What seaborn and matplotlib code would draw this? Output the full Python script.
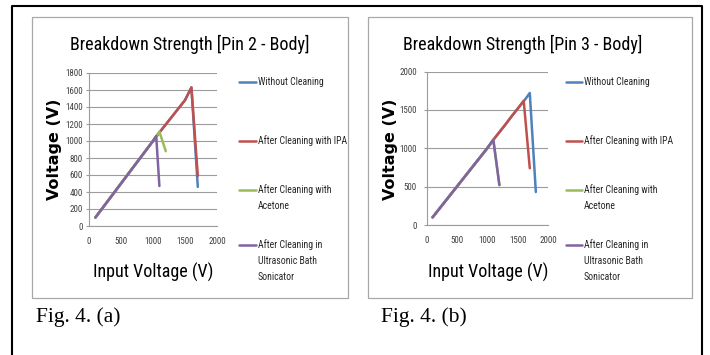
import numpy as np
import pandas as pd
import matplotlib
matplotlib.use("Agg")
import matplotlib.pyplot as plt
import seaborn as sns
from matplotlib import font_manager
from matplotlib.lines import Line2D
from matplotlib.patches import Rectangle

# ---------------- data ----------------
SERIES = ["Without Cleaning", "After Cleaning with IPA",
          "After Cleaning with Acetone", "After Cleaning in Ultrasonic Bath Sonicator"]
LEGEND_LINES = [["Without Cleaning"], ["After Cleaning with IPA"],
                ["After Cleaning with", "Acetone"],
                ["After Cleaning in", "Ultrasonic Bath", "Sonicator"]]
COLORS = ["#4F81BD", "#C0504D", "#9BBB59", "#8064A2"]

TITLE_A = "Breakdown Strength [Pin 2 - Body]"
TITLE_B = "Breakdown Strength [Pin 3 - Body]"
XLABEL = "Input Voltage (V)"
YLABEL = "Voltage (V)"
CAPTION_A = "Fig. 4. (a)"
CAPTION_B = "Fig. 4. (b)"

X_TICKS = [0, 500, 1000, 1500, 2000]
Y_TICKS_A = [0, 200, 400, 600, 800, 1000, 1200, 1400, 1600, 1800]
Y_TICKS_B = [0, 500, 1000, 1500, 2000]

# Pin 2 - Body
a_without_x = [100, 200, 300, 400, 500, 600, 700, 800, 900, 1000, 1100, 1200, 1300, 1400, 1500, 1600, 1700]
a_without_y = [100, 200, 300, 400, 500, 600, 700, 800, 900, 1000, 1100, 1195, 1290, 1385, 1480, 1630, 460]
a_ipa_x = [100, 200, 300, 400, 500, 600, 700, 800, 900, 1000, 1100, 1200, 1300, 1400, 1500, 1600, 1700]
a_ipa_y = [100, 200, 300, 400, 500, 600, 700, 800, 900, 1000, 1100, 1195, 1290, 1385, 1480, 1630, 590]
a_acetone_x = [100, 200, 300, 400, 500, 600, 700, 800, 900, 1000, 1100, 1200]
a_acetone_y = [100, 200, 300, 400, 500, 600, 700, 800, 900, 1000, 1110, 880]
a_ultra_x = [100, 200, 300, 400, 500, 600, 700, 800, 900, 1000, 1050, 1100]
a_ultra_y = [100, 200, 300, 400, 500, 600, 700, 800, 900, 1000, 1060, 470]

# Pin 3 - Body
b_without_x = [100, 200, 300, 400, 500, 600, 700, 800, 900, 1000, 1100, 1200, 1300, 1400, 1500, 1600, 1700, 1800]
b_without_y = [100, 200, 300, 400, 500, 600, 700, 800, 900, 1000, 1110, 1210, 1310, 1415, 1515, 1610, 1720, 430]
b_ipa_x = [100, 200, 300, 400, 500, 600, 700, 800, 900, 1000, 1100, 1200, 1300, 1400, 1500, 1600, 1700]
b_ipa_y = [100, 200, 300, 400, 500, 600, 700, 800, 900, 1000, 1110, 1210, 1310, 1415, 1515, 1620, 740]
b_acetone_x = [100, 200, 300, 400, 500, 600, 700, 800, 900, 1000, 1100, 1200]
b_acetone_y = [100, 200, 300, 400, 500, 600, 700, 800, 900, 1000, 1110, 520]
b_ultra_x = [100, 200, 300, 400, 500, 600, 700, 800, 900, 1000, 1100, 1200]
b_ultra_y = [100, 200, 300, 400, 500, 600, 700, 800, 900, 1000, 1110, 520]


def make_df(pairs):
    frames = []
    for name, (xs, ys) in zip(SERIES, pairs):
        frames.append(pd.DataFrame({"input": xs, "voltage": ys, "series": name}))
    return pd.concat(frames, ignore_index=True)


df_a = make_df([(a_without_x, a_without_y), (a_ipa_x, a_ipa_y),
                (a_acetone_x, a_acetone_y), (a_ultra_x, a_ultra_y)])
df_b = make_df([(b_without_x, b_without_y), (b_ipa_x, b_ipa_y),
                (b_acetone_x, b_acetone_y), (b_ultra_x, b_ultra_y)])

# ---------------- fonts ----------------
def pick(names, fallback="DejaVu Sans"):
    for n in names:
        try:
            font_manager.findfont(font_manager.FontProperties(family=n), fallback_to_default=False)
            return n
        except Exception:
            pass
    return fallback


NARROW = pick(["Liberation Sans Narrow", "Roboto Condensed", "Open Sans Condensed", "Liberation Sans"])
SERIF = pick(["Liberation Serif", "DejaVu Serif"])

sns.set_theme(style="white")
plt.rcParams["font.family"] = [NARROW, "DejaVu Sans"]

W, H = 710, 355
fig = plt.figure(figsize=(W / 100, H / 100), dpi=100)
fig.patch.set_facecolor("white")


def fx(px):
    return px / W


def fy(py):
    return 1 - py / H


# outer border (black)
fig.add_artist(Line2D([fx(11.5), fx(11.5), fx(701.5), fx(701.5)],
                      [fy(400), fy(5.5), fy(5.5), fy(400)],
                      transform=fig.transFigure, color="black", lw=1.5))

# chart boxes
for (x0, x1) in [(31.5, 348), (367.5, 692)]:
    fig.add_artist(Rectangle((fx(x0), fy(298)), fx(x1) - fx(x0), (298 - 17) / H,
                             transform=fig.transFigure, fill=False,
                             edgecolor="#a8a8a8", lw=0.9))

GRID = "#9c9c9c"
TICKC = "#404040"


def style_axes(ax, yticks, ylim, ypad):
    ax.set_xlim(0, 2000)
    ax.set_ylim(0, ylim)
    ax.set_xticks(X_TICKS)
    ax.set_yticks(yticks)
    ax.set_xlabel("")
    ax.set_ylabel("")
    ax.set_facecolor("white")
    ax.yaxis.grid(True, color=GRID, lw=0.8)
    ax.xaxis.grid(False)
    ax.set_axisbelow(True)
    for s in ["top", "right"]:
        ax.spines[s].set_visible(False)
    for s in ["left", "bottom"]:
        ax.spines[s].set_color(GRID)
        ax.spines[s].set_linewidth(0.8)
    ax.tick_params(axis="y", length=2, width=0.8, color=GRID, pad=ypad,
                   labelsize=6.5, labelcolor=TICKC, left=True)
    ax.tick_params(axis="x", length=0, pad=8, labelsize=6.5, labelcolor=TICKC)


axA = fig.add_axes([fx(89), fy(226), (217 - 89) / W, (226 - 73) / H])
axB = fig.add_axes([fx(426.5), fy(225), (548 - 426.5) / W, (225 - 71.5) / H])

for ax, df in [(axA, df_a), (axB, df_b)]:
    sns.lineplot(data=df, x="input", y="voltage", hue="series", hue_order=SERIES,
                 palette=COLORS, sort=False, estimator=None, legend=False,
                 linewidth=1.8, ax=ax)

style_axes(axA, Y_TICKS_A, 1800, 2.7)
style_axes(axB, Y_TICKS_B, 2000, 5.0)

# titles, axis labels
for cx, title in [(190, TITLE_A), (523, TITLE_B)]:
    fig.text(fx(cx), fy(50.5), title, ha="center", va="baseline", fontsize=13, color="black")
for cx in [54, 390.5]:
    fig.text(fx(cx), fy(149), YLABEL, rotation=90, ha="center", va="center",
             fontsize=11.5, fontweight="bold", family=["DejaVu Sans"], color="black")
for cx in [153, 488]:
    fig.text(fx(cx), fy(277.5), XLABEL, ha="center", va="baseline", fontsize=13, color="black")

# legends
ROWS = [81.7, 141, 190, 245]
for kx0, kx1, tx in [(239, 256, 258), (566, 582, 583.5)]:
    for (ry, lines, col) in zip(ROWS, LEGEND_LINES, COLORS):
        fig.add_artist(Line2D([fx(kx0), fx(kx1)], [fy(ry), fy(ry)],
                              transform=fig.transFigure, color=col, lw=1.8))
        for i, t in enumerate(lines):
            fig.text(fx(tx), fy(ry + i * 16), t, ha="left", va="center",
                     fontsize=7, color="#262626")

# captions
for cx, cap in [(36.5, CAPTION_A), (381, CAPTION_B)]:
    fig.text(fx(cx), fy(322), cap, ha="left", va="baseline", fontsize=15.5,
             family=[SERIF], color="black")

fig.savefig("out.png", dpi=100, facecolor="white")
